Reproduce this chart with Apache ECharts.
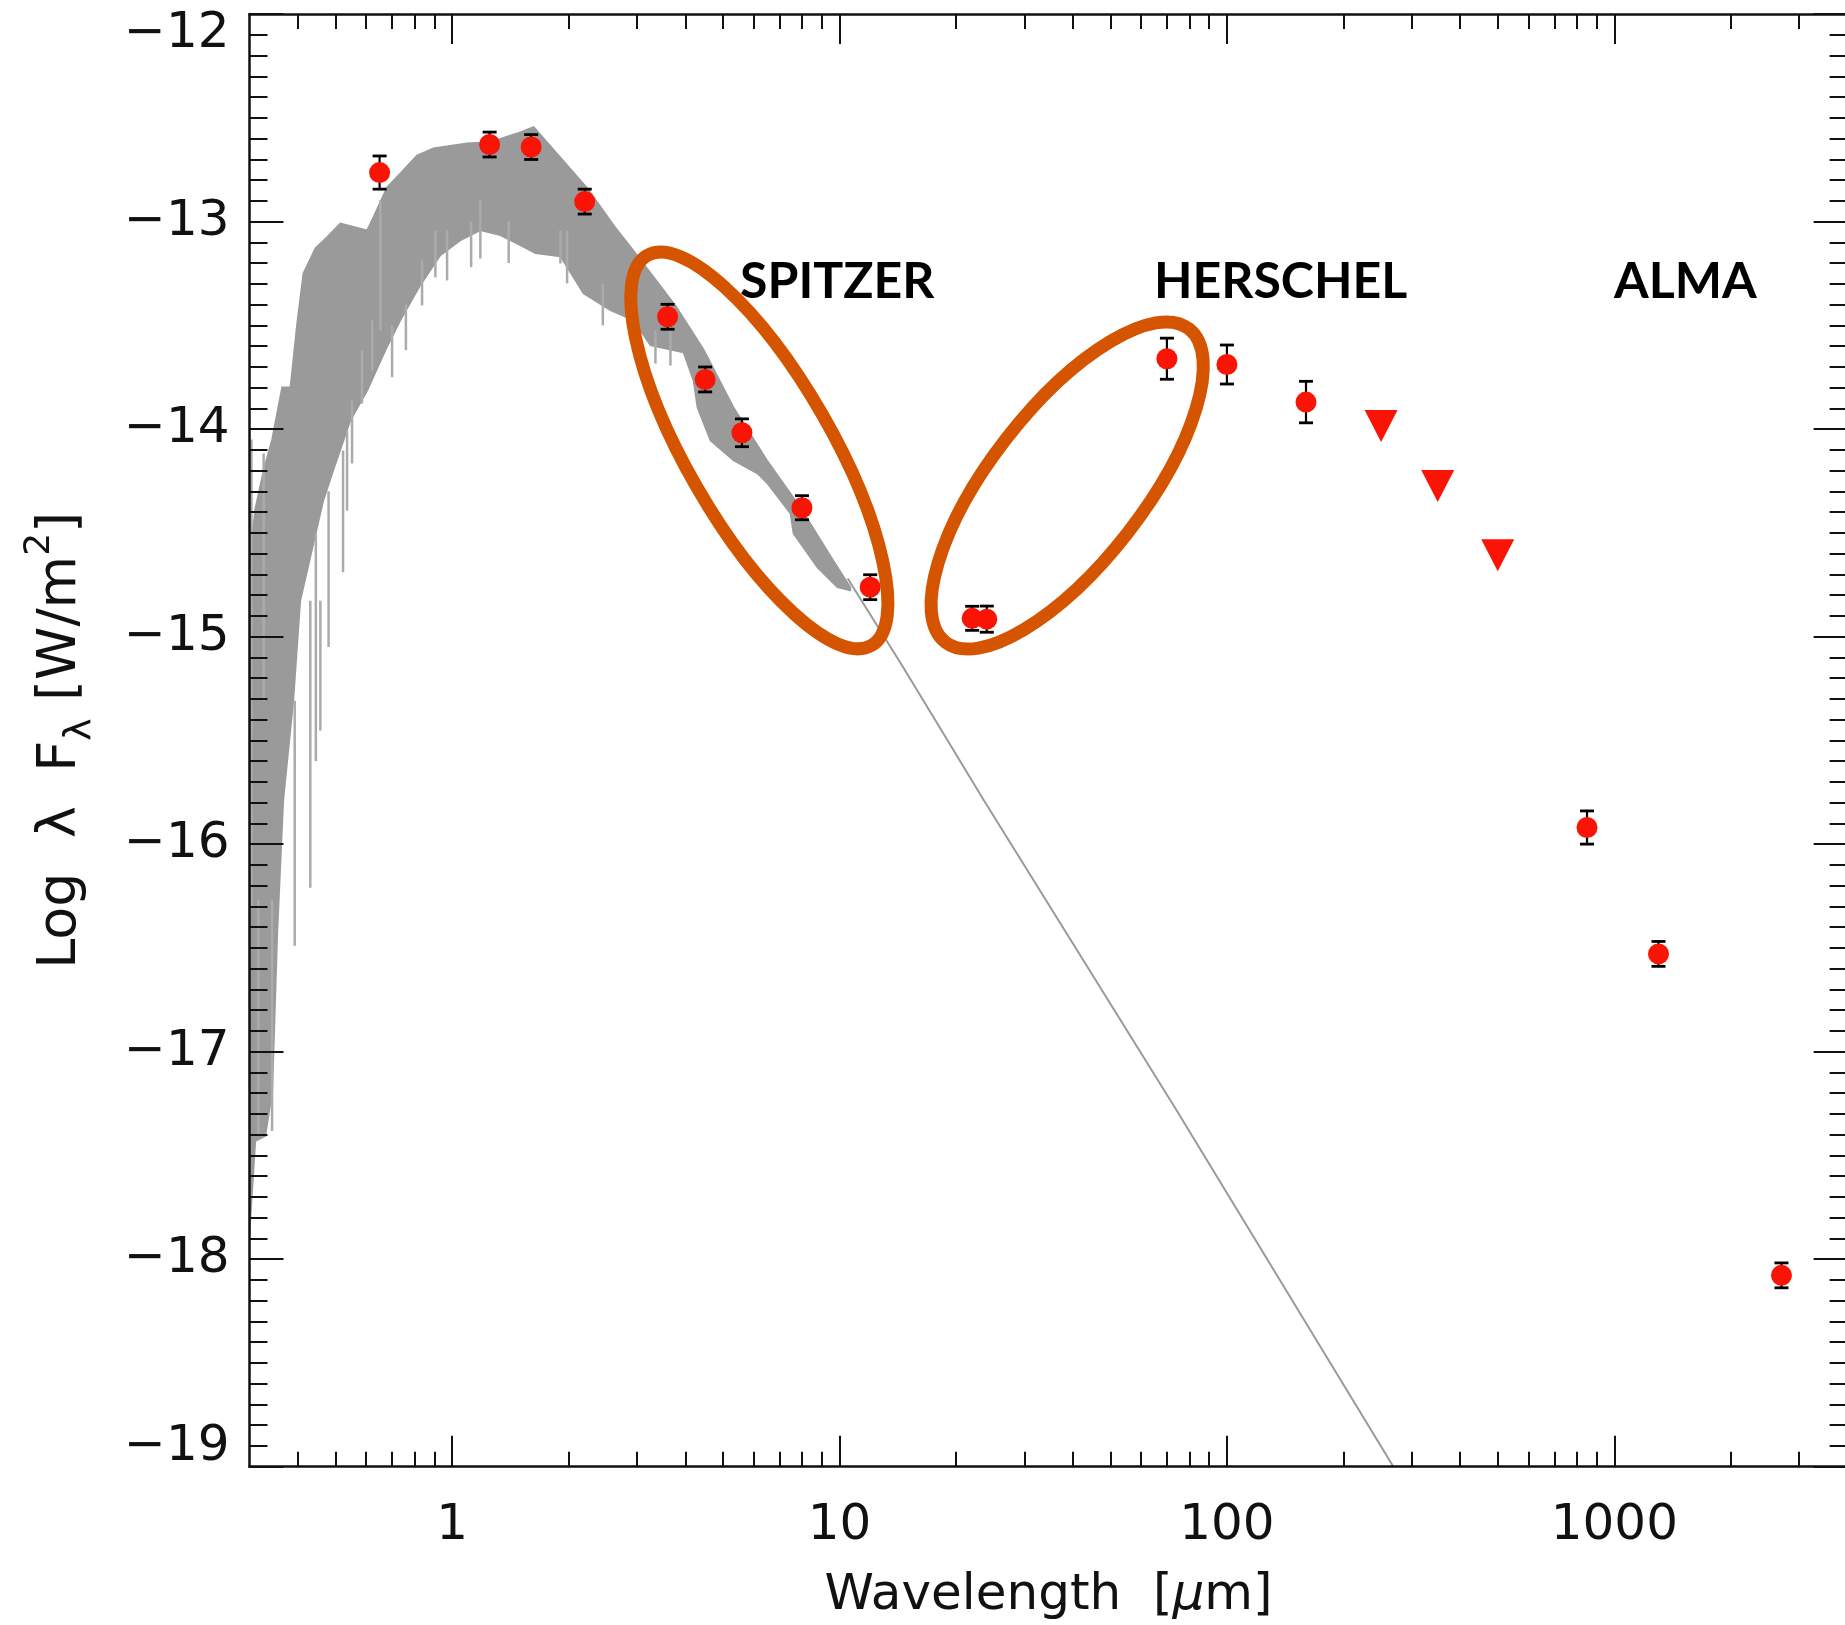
<!DOCTYPE html>
<html>
<head>
<meta charset="utf-8">
<script src="https://cdn.jsdelivr.net/npm/echarts@6/dist/echarts.min.js"></script>
<style>
html,body{margin:0;padding:0;background:#fff;}
#chart{width:1845px;height:1625px;}
</style>
</head>
<body>
<div id="chart"></div>
<script>
// ---------------- DATA ----------------
// photometric detections: wavelength [um], log(lambda F_lambda) [W/m^2], 1-sigma error [dex]
const photWave = [0.65, 1.25, 1.6, 2.2, 3.6, 4.5, 5.6, 8.0, 12, 22, 24, 70, 100, 160, 850, 1300, 2700];
const photLogF = [-12.764, -12.629, -12.641, -12.904, -13.459, -13.761, -14.018, -14.379, -14.762, -14.912, -14.916, -13.661, -13.689, -13.870, -15.920, -16.529, -18.078];
const photErr  = [0.08, 0.06, 0.06, 0.06, 0.06, 0.06, 0.067, 0.058, 0.06, 0.058, 0.063, 0.099, 0.094, 0.10, 0.08, 0.06, 0.06];

// upper limits (SPIRE)
const limitWave = [250, 350, 500];
const limitLogF = [-13.985, -14.274, -14.608];

// stellar photosphere model: upper and lower envelope of the dense spectrum
const specUpper = [
  [0.30, -14.64], [0.31, -14.39], [0.326, -14.20], [0.343, -14.05], [0.364, -13.798], [0.3825, -13.798], [0.398, -13.491],
  [0.413, -13.250], [0.4437, -13.129], [0.4756, -13.075], [0.5148, -13.009], [0.6034, -13.042],
  [0.626, -12.980], [0.6795, -12.835], [0.7354, -12.768], [0.812, -12.681], [0.8948, -12.647],
  [1.093, -12.623], [1.256, -12.617], [1.472, -12.575], [1.624, -12.544], [2.235, -12.840],
  [2.624, -13.023], [2.921, -13.134], [3.421, -13.301], [3.793, -13.412], [4.454, -13.615],
  [5.323, -13.894], [6.505, -14.151], [7.928, -14.377], [9.645, -14.634], [10.67, -14.762]
];
const specLower = [
  [0.30, -17.879], [0.3107, -17.431], [0.3297, -17.407], [0.3437, -17.189], [0.354, -16.432],
  [0.3668, -15.792], [0.3894, -15.309], [0.4059, -14.827], [0.4654, -14.344], [0.4939, -14.199],
  [0.5464, -13.959], [0.6045, -13.814], [0.6729, -13.621], [0.7354, -13.476], [0.8283, -13.307],
  [0.9329, -13.163], [1.051, -13.091], [1.183, -13.042], [1.333, -13.066], [1.501, -13.115],
  [1.641, -13.153], [1.904, -13.168], [2.183, -13.346], [2.563, -13.428], [2.938, -13.476],
  [3.251, -13.597], [3.955, -13.631], [4.197, -13.766], [4.297, -13.896], [4.643, -14.055],
  [5.323, -14.151], [6.140, -14.214], [6.517, -14.262], [7.470, -14.407], [7.603, -14.503],
  [8.768, -14.667], [9.875, -14.763], [10.67, -14.778]
];
// individual spectral features (wavelength, top, bottom)
const specLines = [
  [0.3035, -14.05, -16.3], [0.3263, -14.118, -15.309], [0.3162, -16.27, -17.40], [0.343, -16.27, -17.382],
  [0.3925, -15.309, -16.49], [0.4306, -14.827, -16.21], [0.4571, -14.827, -15.453],
  [0.4450, -14.50, -15.60], [0.4800, -14.30, -15.05],
  [0.5231, -14.104, -14.69], [0.5358, -14.007, -14.393], [0.5518, -13.862, -14.166],
  [0.5857, -13.621, -13.877], [0.6218, -13.476, -13.718], [0.6531, -12.897, -13.526],
  [0.7000, -13.50, -13.75], [0.7600, -13.40, -13.62],
  [0.8367, -13.188, -13.404], [0.9055, -13.043, -13.269], [0.9707, -13.043, -13.284],
  [1.120, -13.00, -13.22], [1.183, -12.897, -13.178], [1.40, -13.00, -13.20],
  [1.904, -13.043, -13.202], [1.981, -13.043, -13.298], [2.45, -13.30, -13.50],
  [3.349, -13.525, -13.684], [3.661, -13.525, -13.694]
];
// Rayleigh-Jeans continuation of the model
const tailLine = [[10.5, -14.72], [14.4, -15.13], [19, -15.50], [23.6, -15.79], [74, -17.28], [269, -19.0]];

// axis ticks / labels
const xLabelValues = [1, 10, 100, 1000];
const xMinorValues = [0.4, 0.5, 0.6, 0.7, 0.8, 0.9, 2, 3, 4, 5, 6, 7, 8, 9,
  20, 30, 40, 50, 60, 70, 80, 90, 200, 300, 400, 500, 600, 700, 800, 900, 2000, 3000];

// annotation regions (centre in data coords)
const regionNames = ['SPITZER', 'HERSCHEL', 'ALMA'];
const regionCentres = [[6.21, -14.103], [38.7, -14.272]];

// ---------------- CHART ----------------
const X_MIN = 0.3, X_MAX = 4000, Y_MIN = -19, Y_MAX = -12;
const AX = '#111';
const FONT = 'DejaVu Sans';
const ellipseGeom = [
  { rx: 225, ry: 72.5, rot: -60.1 },
  { rx: 198.4, ry: 76.8, rot: 52.1 }
];
const textPos = [[740, 282], [1154, 282], [1614, 282]];

const fmtY = v => '\u2212' + Math.abs(Math.round(v));

const chart = echarts.init(document.getElementById('chart'), null, { renderer: 'canvas' });

const baseX = { type: 'log', logBase: 10, min: X_MIN, max: X_MAX, gridIndex: 0, z: 10,
  splitLine: { show: false }, minorTick: { show: false }, minorSplitLine: { show: false } };
const baseY = { type: 'value', min: Y_MIN, max: Y_MAX, interval: 1, gridIndex: 0, z: 10,
  splitLine: { show: false }, minorSplitLine: { show: false } };

const option = {
  backgroundColor: '#fff',
  animation: false,
  grid: { left: 249.5, top: 14, width: 1598.1, height: 1452.7, outerBoundsMode: 'none', containLabel: false },
  xAxis: [
    Object.assign({}, baseX, {
      position: 'bottom',
      axisLine: { show: true, lineStyle: { color: AX, width: 2.5 } },
      axisTick: { show: true, inside: true, length: 31, customValues: xLabelValues, lineStyle: { color: AX, width: 2 } },
      axisLabel: { show: true, customValues: xLabelValues, margin: 34, fontFamily: FONT, fontSize: 50, color: AX,
        formatter: v => String(Math.round(v)) },
      name: '{n|Wavelength  [}{i|\u03bc}{n|m]}',
      nameLocation: 'middle', nameGap: 104,
      nameTextStyle: { fontFamily: FONT, fontSize: 50, color: AX,
        rich: { n: { fontFamily: FONT, fontSize: 50, color: AX }, i: { fontFamily: FONT, fontSize: 50, fontStyle: 'italic', color: AX } } }
    }),
    Object.assign({}, baseX, {
      position: 'bottom',
      axisLine: { show: false },
      axisTick: { show: true, inside: true, length: 15, customValues: xMinorValues, lineStyle: { color: AX, width: 2 } },
      axisLabel: { show: false }
    }),
    Object.assign({}, baseX, {
      position: 'top',
      axisLine: { show: true, lineStyle: { color: AX, width: 2.5 } },
      axisTick: { show: true, inside: true, length: 30, customValues: xLabelValues, lineStyle: { color: AX, width: 2 } },
      axisLabel: { show: false }
    }),
    Object.assign({}, baseX, {
      position: 'top',
      axisLine: { show: false },
      axisTick: { show: true, inside: true, length: 15, customValues: xMinorValues, lineStyle: { color: AX, width: 2 } },
      axisLabel: { show: false }
    })
  ],
  yAxis: [
    Object.assign({}, baseY, {
      position: 'left',
      axisLine: { show: true, lineStyle: { color: AX, width: 2.5 } },
      axisTick: { show: true, inside: true, length: 34, lineStyle: { color: AX, width: 2 } },
      minorTick: { show: true, splitNumber: 10, length: 18, lineStyle: { color: AX, width: 2 } },
      axisLabel: { show: true, margin: 20, fontFamily: FONT, fontSize: 50, color: AX,
        formatter: v => (Math.round(v) === Y_MIN || Math.round(v) === Y_MAX) ? '' : fmtY(v) },
      name: '{n|Log  \u03bb  F}{s|\u03bb}{n| [W/m}{p|2}{n|]}',
      nameLocation: 'middle', nameRotate: 90, nameGap: 150,
      nameTextStyle: { fontFamily: FONT, fontSize: 54, color: AX,
        rich: {
          n: { fontFamily: FONT, fontSize: 54, color: AX, lineHeight: 78, verticalAlign: 'middle' },
          s: { fontFamily: FONT, fontSize: 38, color: AX, lineHeight: 78, verticalAlign: 'bottom' },
          p: { fontFamily: FONT, fontSize: 36, color: AX, lineHeight: 78, verticalAlign: 'top' }
        } }
    }),
    Object.assign({}, baseY, {
      position: 'left',
      axisLine: { show: false }, axisTick: { show: false }, minorTick: { show: false },
      axisLabel: { show: true, margin: 20, fontFamily: FONT, fontSize: 50, color: AX, verticalAlign: 'top', lineHeight: 40,
        formatter: v => Math.round(v) === Y_MAX ? fmtY(v) : '' }
    }),
    Object.assign({}, baseY, {
      position: 'left',
      axisLine: { show: false }, axisTick: { show: false }, minorTick: { show: false },
      axisLabel: { show: true, margin: 20, fontFamily: FONT, fontSize: 50, color: AX, verticalAlign: 'bottom', lineHeight: 40,
        formatter: v => Math.round(v) === Y_MIN ? fmtY(v) : '' }
    }),
    Object.assign({}, baseY, {
      position: 'right',
      axisLine: { show: true, lineStyle: { color: AX, width: 2.5 } },
      axisTick: { show: true, inside: true, length: 34, lineStyle: { color: AX, width: 2 } },
      minorTick: { show: true, splitNumber: 10, length: 18, lineStyle: { color: AX, width: 2 } },
      axisLabel: { show: false }
    })
  ],
  graphic: regionNames.map((t, i) => ({
    type: 'text', x: textPos[i][0], y: textPos[i][1], z: 20,
    style: { text: t, fontFamily: 'Lato', fontWeight: 'bold', fontSize: 50, fill: '#000',
      align: 'left', verticalAlign: 'middle' }
  })),
  series: [
    { // model spectrum body
      type: 'custom', xAxisIndex: 0, yAxisIndex: 0, z: 1, silent: true,
      data: [[1, -13]],
      encode: { x: 0, y: 1 },
      renderItem: function (params, api) {
        const pts = [];
        for (let i = 0; i < specUpper.length; i++) pts.push(api.coord(specUpper[i]));
        for (let i = specLower.length - 1; i >= 0; i--) pts.push(api.coord(specLower[i]));
        return { type: 'polygon', shape: { points: pts },
          style: { fill: '#9a9a9a', stroke: '#9a9a9a', lineWidth: 1.5 } };
      }
    },
    { // spectral features
      type: 'custom', xAxisIndex: 0, yAxisIndex: 0, z: 1, silent: true,
      data: specLines,
      encode: { x: 0, y: [1, 2] },
      renderItem: function (params, api) {
        const a = api.coord([api.value(0), api.value(1)]);
        const b = api.coord([api.value(0), api.value(2)]);
        return { type: 'line', shape: { x1: a[0], y1: a[1], x2: b[0], y2: b[1] },
          style: { stroke: '#ababab', lineWidth: 2.5 } };
      }
    },
    { // Rayleigh-Jeans tail
      type: 'line', xAxisIndex: 0, yAxisIndex: 0, z: 2, silent: true,
      data: tailLine, showSymbol: false, symbol: 'none', clip: true,
      lineStyle: { color: '#9a9a9a', width: 2 }
    },
    { // highlight ellipses
      type: 'custom', xAxisIndex: 0, yAxisIndex: 0, z: 3, silent: true,
      data: regionCentres,
      encode: { x: 0, y: 1 },
      renderItem: function (params, api) {
        const c = api.coord([api.value(0), api.value(1)]);
        const g = ellipseGeom[params.dataIndex];
        return { type: 'ellipse', x: c[0], y: c[1], rotation: g.rot * Math.PI / 180,
          shape: { cx: 0, cy: 0, rx: g.rx, ry: g.ry },
          style: { fill: 'none', stroke: '#d55400', lineWidth: 13 } };
      }
    },
    { // error bars
      type: 'custom', xAxisIndex: 0, yAxisIndex: 0, z: 4, silent: true,
      data: photWave.map((w, i) => [w, photLogF[i], photErr[i]]),
      encode: { x: 0, y: 1 },
      renderItem: function (params, api) {
        const x = api.value(0), y = api.value(1), e = api.value(2);
        const t = api.coord([x, y + e]);
        const b = api.coord([x, y - e]);
        const hw = 7;
        const st = { stroke: '#000', lineWidth: 2.2 };
        return { type: 'group', children: [
          { type: 'line', shape: { x1: t[0], y1: t[1], x2: b[0], y2: b[1] }, style: st },
          { type: 'line', shape: { x1: t[0] - hw, y1: t[1], x2: t[0] + hw, y2: t[1] }, style: { stroke: '#000', lineWidth: 2.8 } },
          { type: 'line', shape: { x1: b[0] - hw, y1: b[1], x2: b[0] + hw, y2: b[1] }, style: { stroke: '#000', lineWidth: 2.8 } }
        ] };
      }
    },
    { // detections
      type: 'scatter', xAxisIndex: 0, yAxisIndex: 0, z: 5, silent: true,
      data: photWave.map((w, i) => [w, photLogF[i]]),
      symbol: 'circle', symbolSize: 21,
      itemStyle: { color: '#fa1405', opacity: 1 }
    },
    { // upper limits
      type: 'scatter', xAxisIndex: 0, yAxisIndex: 0, z: 5, silent: true,
      data: limitWave.map((w, i) => [w, limitLogF[i]]),
      symbol: 'triangle', symbolRotate: 180, symbolSize: [33, 32],
      itemStyle: { color: '#fa1405', opacity: 1 }
    }
  ]
};
chart.setOption(option);
</script>
</body>
</html>
